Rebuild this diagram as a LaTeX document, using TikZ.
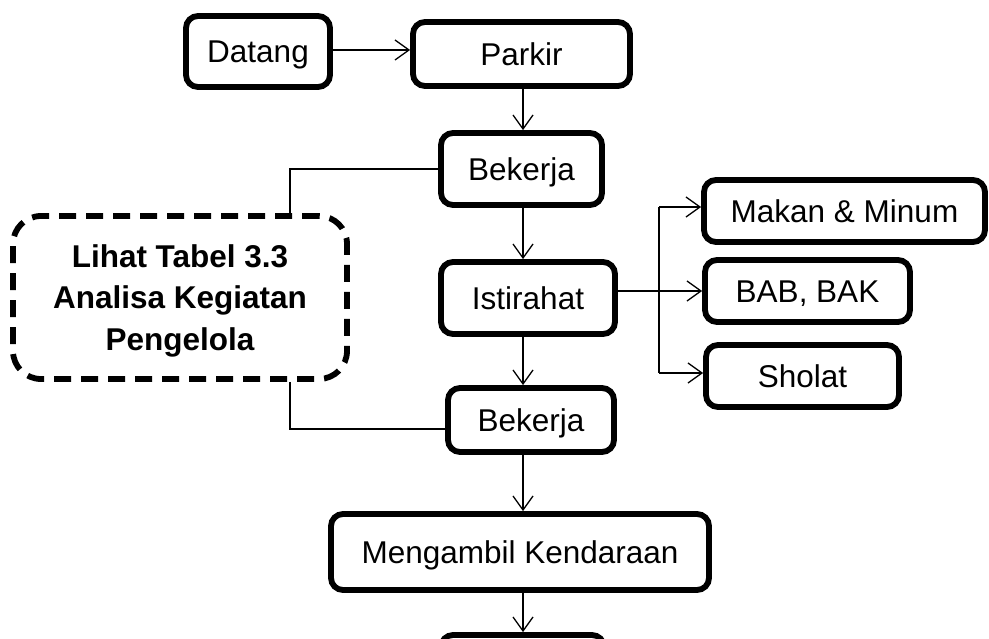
\documentclass[tikz,border=0pt]{standalone}
\usepackage{fontspec}
\setmainfont{Liberation Sans}
\usetikzlibrary{arrows.meta}
\begin{document}
\begin{tikzpicture}[x=1pt,y=-1pt,
  box/.style={draw, line width=5.8pt, rounded corners=12pt, inner sep=0pt,
    text height=22.6pt, text depth=0pt,
    font=\fontsize{31.5}{38}\selectfont},
  note/.style={draw, dash pattern=on 17pt off 10pt, line width=5.8pt,
    rounded corners=28pt, inner sep=0pt},
  notetext/.style={align=center, inner sep=0pt,
    font=\bfseries\fontsize{31.5}{41.5}\selectfont},
  link/.style={line width=1.3pt},
  flow/.style={link, -{Straight Barb[length=14pt,width=20pt]}}]
\clip (0,0) rectangle (989,639);
\fill[white] (0,0) rectangle (989,639);

% main column
\node[box, minimum width=144, minimum height=71] (datang) at (258,51.5) {Datang};
\node[box, minimum width=217, minimum height=64] (parkir) at (521.5,54) {Parkir};
\node[box, minimum width=161, minimum height=72] (bek1) at (521.5,169) {Bekerja};
\node[box, minimum width=174, minimum height=72] (ist) at (528,298) {Istirahat};
\node[box, minimum width=166, minimum height=64] (bek2) at (531,420) {Bekerja};
\node[box, minimum width=378, minimum height=76] (ambil) at (520,552) {Mengambil Kendaraan};
\node[box, minimum width=163, minimum height=72] (pulang) at (522.5,671) {};

% break activities
\node[box, minimum width=281, minimum height=62] (makan) at (844.5,211) {Makan \& Minum};
\node[box, minimum width=205, minimum height=62] (bab) at (807.5,291) {BAB, BAK};
\node[box, minimum width=193, minimum height=62] (sholat) at (802.5,376) {Sholat};

% reference note
\node[note, minimum width=334, minimum height=163] (ref) at (180,297.5) {};
\node[notetext] (reftext) at ([yshift=-3pt]ref.center)
  {Lihat Tabel 3.3\\Analisa Kegiatan\\Pengelola};

% guide coordinates
\coordinate (spine) at (523,0);
\coordinate (branch) at (659,0);
\coordinate (tap) at (290,0);

% arrows
\draw[flow] ([yshift=1.5pt]datang.east) -- ([yshift=1.5pt]datang.east -| parkir.west);
\draw[flow] (parkir.south -| spine) -- (bek1.north -| spine);
\draw[flow] (bek1.south -| spine) -- (ist.north -| spine);
\draw[flow] (ist.south -| spine) -- (bek2.north -| spine);
\draw[flow] (bek2.south -| spine) -- (ambil.north -| spine);
\draw[flow] (ambil.south -| spine) -- (pulang.north -| spine);

% branches from the break
\draw[link] (ist.east |- bab.west) -- (branch |- bab.west);
\draw[link] ([yshift=4pt]branch |- makan.west) -- ([yshift=3pt]branch |- sholat.west);
\draw[flow] ([yshift=4pt]branch |- makan.west) -- ([yshift=4pt]makan.west);
\draw[flow] (branch |- bab.west) -- (bab.west);
\draw[flow] ([yshift=3pt]branch |- sholat.west) -- ([yshift=3pt]sholat.west);

% links to the reference note
\draw[link] (bek1.west) -- (bek1.west -| tap) -- (tap |- ref.north);
\draw[link] (tap |- ref.south) -- ([yshift=-9pt]tap |- bek2.west) -- ([yshift=-9pt]bek2.west);
\end{tikzpicture}
\end{document}
